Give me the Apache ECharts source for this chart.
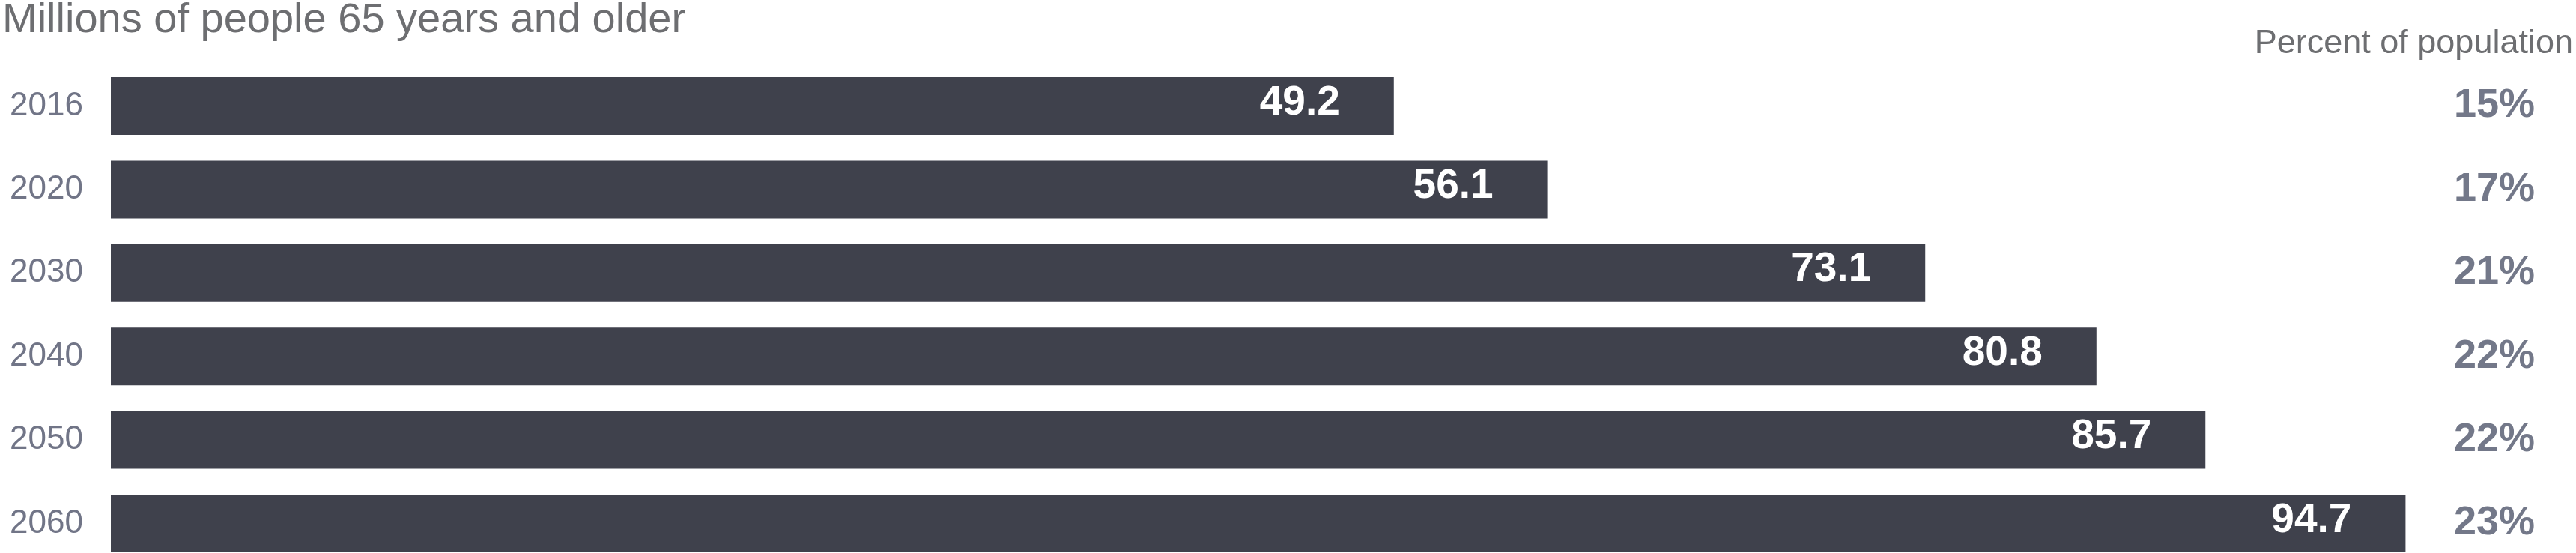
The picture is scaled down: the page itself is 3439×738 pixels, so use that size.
<!DOCTYPE html>
<html>
<head>
<meta charset="utf-8">
<script src="https://cdn.jsdelivr.net/npm/echarts@6/dist/echarts.min.js"></script>
<style>
  html, body { margin: 0; padding: 0; background: #ffffff; }
  #chart { width: 3439px; height: 738px; }
</style>
</head>
<body>
<div id="chart"></div>
<script>
// ---- data ----
const years = ['2016', '2020', '2030', '2040', '2050', '2060'];
const millions = [49.2, 56.1, 73.1, 80.8, 85.7, 94.7];
const percentOfPopulation = [15, 17, 21, 22, 22, 23];
const titleText = 'Millions of people 65 years and older';
const rightHeader = 'Percent of population';

const FONT = '"Liberation Sans", Arial, Helvetica, sans-serif';
const chart = echarts.init(document.getElementById('chart'), null, { renderer: 'canvas' });

chart.setOption({
  backgroundColor: '#ffffff',
  animation: false,
  title: [
    {
      text: titleText, left: 3, top: 0, padding: 0,
      textStyle: { fontFamily: FONT, fontSize: 56, fontWeight: 'normal', color: '#6d6e71' }
    },
    {
      text: rightHeader, right: 4, top: 36, padding: 0,
      textStyle: { fontFamily: FONT, fontSize: 45, fontWeight: 'normal', color: '#6d6e71' }
    }
  ],
  grid: { left: 148, top: 141.5, height: 557, right: 189, containLabel: false },
  xAxis: {
    type: 'value', min: -8.5, max: 96, startValue: -8.5,
    show: false, splitLine: { show: false }
  },
  yAxis: [
    {
      type: 'category', data: years, inverse: true, position: 'left', boundaryGap: false,
      axisLine: { show: false }, axisTick: { show: false },
      axisLabel: {
        align: 'left', margin: 135, fontFamily: FONT, fontSize: 44,
        color: '#717587', verticalAlign: 'middle', padding: [0, 0, 22, 0]
      }
    },
    {
      type: 'category', data: years, inverse: true, position: 'right', boundaryGap: false,
      axisLine: { show: false }, axisTick: { show: false },
      axisLabel: {
        align: 'left', margin: 26, fontFamily: FONT, fontSize: 54, fontWeight: 'bold',
        color: '#737889', verticalAlign: 'middle', padding: [0, 0, 14, 0],
        formatter: (v, i) => percentOfPopulation[i] + '%'
      }
    }
  ],
  series: [
    {
      type: 'bar', data: millions, yAxisIndex: 0, barWidth: 77,
      itemStyle: { color: '#3f414c' },
      label: {
        show: true, position: 'insideRight', distance: 72,
        fontFamily: FONT, fontSize: 55, fontWeight: 'bold', color: '#ffffff',
        offset: [0, -4],
        formatter: p => p.value.toFixed(1)
      }
    }
  ]
});
</script>
</body>
</html>
